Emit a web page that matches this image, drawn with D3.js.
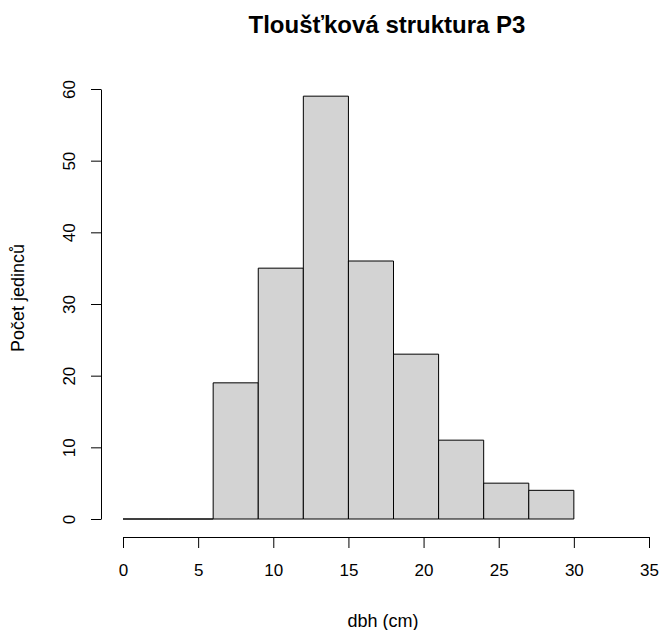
<!doctype html>
<html lang="cs">
<head>
    <meta charset="UTF-8">
    <title>Tloušťková struktura P3</title>
    <script src="https://d3js.org/d3.v7.min.js"></script>
    <style>
    body { margin: 0; background: white; }
    text { font-family: "Liberation Sans", Arial, sans-serif; fill: black; }
    .title { font-size: 24px; font-weight: bold; }
    .tick text { font-size: 17px; }
    .label { font-size: 18px; }
    </style>
</head>
<body>
<svg id="svg1" width="659" height="630"></svg>
<script>
    // histogram bins (dbh, cm) and counts
    var binEdges = [0, 3, 6, 9, 12, 15, 18, 21, 24, 27, 30];
    var counts = [0, 0, 19, 35, 59, 36, 23, 11, 5, 4];
    var xTicks = [0, 5, 10, 15, 20, 25, 30, 35];
    var yTicks = [0, 10, 20, 30, 40, 50, 60];

    var svg = d3.select("#svg1");

    var xScale = d3.scaleLinear().domain([0, 35]).range([123, 649]);
    var yScale = d3.scaleLinear().domain([0, 60]).range([519, 89]);

    var bins = counts.map(function (c, i) {
        return {x0: binEdges[i], x1: binEdges[i + 1], n: c};
    });

    // bars as paths so empty bins still show their bottom edge
    svg.append("g")
        .selectAll("path")
        .data(bins)
        .enter()
        .append("path")
        .attr("d", function (d) {
            var a = xScale(d.x0), b = xScale(d.x1);
            var y0 = yScale(0), y1 = yScale(d.n);
            return "M" + a + "," + y0 + "V" + y1 + "H" + b + "V" + y0 + "Z";
        })
        .attr("fill", "#d3d3d3")
        .attr("stroke", "black")
        .attr("stroke-width", 1);

    // x axis
    var xAxis = d3.axisBottom(xScale).tickValues(xTicks).tickSize(11).tickSizeOuter(0).tickPadding(16);
    svg.append("g")
        .attr("transform", "translate(0,537)")
        .call(xAxis)
        .call(function (g) {
            g.select(".domain").attr("stroke", "black");
            g.selectAll(".tick line").attr("stroke", "black");
            g.selectAll(".tick text").attr("font-size", null).attr("font-family", null);
        });

    // y axis, labels rotated like R
    var yAxis = d3.axisLeft(yScale).tickValues(yTicks).tickSize(10).tickSizeOuter(0);
    svg.append("g")
        .attr("transform", "translate(101,0)")
        .call(yAxis)
        .call(function (g) {
            g.select(".domain").attr("stroke", "black");
            g.selectAll(".tick line").attr("stroke", "black");
            g.selectAll(".tick text")
                .attr("font-size", null).attr("font-family", null)
                .attr("x", null).attr("dy", null)
                .attr("text-anchor", "middle")
                .attr("transform", "translate(-32,0) rotate(-90)")
                .attr("y", 0)
                .attr("dy", "0.35em");
        });

    svg.append("text")
        .attr("class", "title")
        .attr("x", 387)
        .attr("y", 33)
        .attr("text-anchor", "middle")
        .text("Tloušťková struktura P3");

    svg.append("text")
        .attr("class", "label")
        .attr("x", 383)
        .attr("y", 627)
        .attr("text-anchor", "middle")
        .text("dbh (cm)");

    svg.append("text")
        .attr("class", "label")
        .attr("transform", "translate(24,298) rotate(-90)")
        .attr("text-anchor", "middle")
        .text("Počet jedinců");
</script>
</body>
</html>
